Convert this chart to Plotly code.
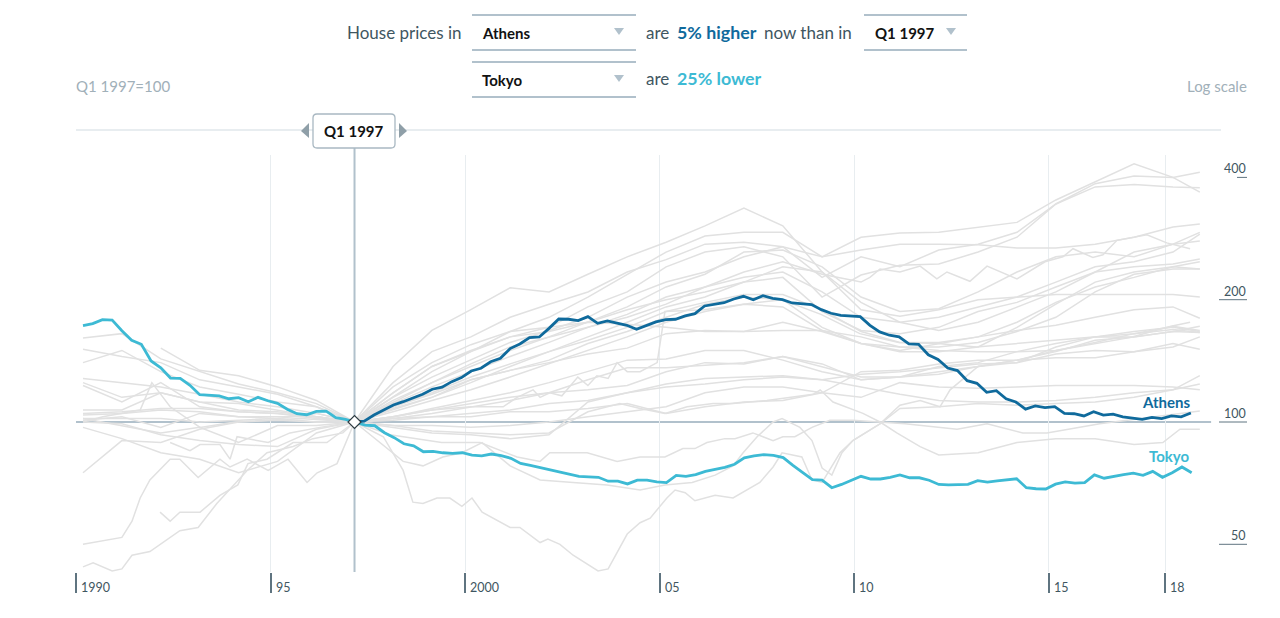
import math
import plotly.graph_objects as go

# ---------- data: house price index, Q1 1997 = 100 ----------
Q0 = 1990.18
athens_start = 1997.16
athens = [100,100.5,104,106.8,110.1,112.2,114.4,117,120.4,121.8,125.7,128.6,
133.5,135.6,140.7,143.5,151.6,155.6,161.3,161.9,170,179.3,179,177.6,181.7,174.9,177.3,175.3,
173,169.1,173,176.3,178.6,179,182.4,184.8,193,194.7,196.6,200.8,203.9,200,204.6,201.5,
200,196.3,195.1,194.5,189,185.2,183,182.4,181.7,173,166.6,163.5,162.1,
155.6,155.3,146.4,142.6,135.8,133.8,126.4,124.5,118.3,119.4,114.1,112,107.6,109.5,108.5,109.1,
105,104.8,103.5,106,104,104.5,103,102.3,101.5,102.7,101.9,103.5,103,105.2]
tokyo = [172.6,174.6,178.6,178.2,167.8,158.9,155.3,141.3,136,128.3,128.1,123.1,116.7,116.1,115.9,114.1,
114.8,112.2,115,112.8,111.2,107.5,104.8,104.2,106.2,106.4,102.5,101.5,100,
98.3,97.9,94.1,91.5,88.4,87.4,84.5,84.7,84,83.7,84,82.9,82.5,83.4,82.6,81.4,79.1,78.2,77.2,76.3,75.3,
74.2,73.5,73.3,73.1,71.5,71.5,70.4,71.9,71.9,71.2,70.9,73.9,73.5,74.2,75.6,76.3,77.3,78.7,81.6,82.5,83.1,
82.8,81.7,78.2,75,72.1,71.9,68.9,70.2,71.7,73.5,72.4,72.4,73.1,
74.1,72.9,72.9,71.9,70.2,70,70.2,70.2,71.7,71.1,71.6,71.9,72.5,68.9,68.5,68.4,70.3,71.2,70.7,70.9,
74.1,72.7,73.6,74.2,74.8,73.9,75.6,73.1,75,77.5,75]

years_pre = [1990.18,1991.18,1992.18,1993.18,1994.18,1995.18,1996.18,1997.16]
years_post = [1997.16,1998.15,1999.15,2000.15,2001.16,2002.16,2003.16,2004.17,2005.17,2006.17,2007.17,
2008.17,2009.18,2010.18,2011.18,2012.18,2013.19,2014.19,2015.19,2016.2,2017.2,2018.2,2018.89]

pre_01=[None,None,152,134,130,122,113,100]
pre_02=[161,165,143,133,124,118,111,100]
pre_03=[151,145,140,127,122,117,109,100]
pre_04=[140,150,133,122,117,112,109,100]
pre_05=[128,125,122,117,112,109,105,100]
pre_06=[125,115,118,112,111,107,103,100]
pre_07=[123,112,125,109,106,105,102,100]
pre_08=[107,107,118,112,107,106,103,100]
pre_09=[105,106,108,108,106,105,103,100]
pre_10=[104,105,107,106,103,103,103,100]
pre_11=[102,102,102,100,101,102,105,100]
pre_12=[101,103,97,105,103,102,100,100]
pre_13=[102,98,94,97,89,98,98,100]
pre_14=[100,99,93,90,88,87,96,100]
pre_15=[97,91,84,81,75,80,94,100]
pre_16=[75,90,89,96,100,101,100,100]
grey_pre=[pre_01,pre_02,pre_03,pre_04,pre_05,pre_06,pre_07,pre_08,pre_09,pre_10,pre_11,pre_12,pre_13,pre_14,pre_15,pre_16]

post_01=[100,137,168,189,214,209,231,255,277,304,336,304,234,189,182,189,200,203,206,206,206,206,203]
post_02=[100,118,137,149,167,181,203,231,262,287,293,293,255,285,292,293,302,310,352,390,432,400,368]
post_03=[100,125,149,162,181,195,209,234,251,274,277,270,227,255,241,265,274,293,344,386,403,400,412]
post_04=[100,115,133,149,162,171,192,209,241,262,270,255,203,230,243,245,262,285,344,379,384,379,377]
post_05=[100,115,129,142,157,168,181,203,221,234,255,270,255,265,274,274,273,268,268,274,285,302,307]
post_06=[100,112,125,137,150,162,176,192,215,231,262,265,241,203,187,190,209,234,255,262,255,274,293]
post_08=[100,118,137,150,162,167,176,189,200,209,221,241,234,197,176,168,176,192,209,234,262,274,279]
post_09=[100,111,122,133,145,157,171,184,203,215,227,234,209,181,176,181,192,203,221,241,248,262,290]
post_10=[100,109,118,129,139,149,162,176,192,203,221,227,187,168,165,171,187,197,215,234,241,245,252]
post_11=[100,107,115,125,137,149,159,171,187,197,206,206,189,167,157,157,162,176,197,215,227,241,248]
post_12=[100,109,117,127,134,142,156,167,181,195,203,200,171,156,149,149,153,171,195,221,234,241,238]
post_13=[100,106,113,120,129,139,150,162,176,187,195,192,168,156,153,153,157,167,181,209,231,238,238]
post_15=[100,122,140,155,167,171,176,174,171,167,167,168,168,162,153,150,149,149,150,156,162,167,172]
post_16=[100,108,115,127,134,140,147,152,165,168,167,176,167,156,150,156,162,168,173,181,189,192,180]
post_17=[100,103,107,111,115,118,120,123,133,140,139,145,139,127,129,137,140,149,156,162,167,171,167]
post_18=[100,103,108,113,118,125,133,142,143,150,150,142,133,127,129,131,137,142,150,157,165,172,168]
post_19=[100,102,105,109,113,118,127,136,136,138,140,145,137,129,129,133,137,142,149,159,162,167,166]
post_20=[100,102,103,105,107,111,113,118,124,128,129,130,127,131,133,136,139,140,147,150,149,153,162]
post_21=[100,101,103,103,106,106,108,111,105,109,112,113,118,133,134,139,142,142,144,144,149,156,151]
post_26=[100,97,94,93,91,93,112,118,122,124,127,129,127,122,117,113,112,112,113,115,118,120,124]
post_27=[100,98,98,97,98,100,103,106,109,118,122,122,118,115,125,122,121,122,123,123,123,122,120]
grey_post=[post_01,post_02,post_03,post_04,post_05,post_06,post_08,post_09,post_10,post_11,post_12,post_13,
           post_15,post_16,post_17,post_18,post_19,post_20,post_21,post_26,post_27]

a_x=[1990.18,1991.18,1991.44,1991.65,1991.9,1992.42,1992.67,1993.14,1993.7,1993.96,1994.4,1994.94,1995.45,1995.94,1996.2,1996.71,1997.16]
a_y=[50,52,57,65,72,81,81,73,81,77.5,81,76,81,71,75,79,100]
b_x=[1990.18,1990.44,1990.93,1991.18,1991.44,1991.9,1992.67,1993.14,1993.62,1994.4,1994.91,1995.58,1996.09,1996.86,1997.16]
b_y=[44,45,43,43.5,47,48,54,55,63,76,84,87,91,94,100]
c_x=[1992.16,1992.42,1992.67,1993.19,1993.7,1994.16,1994.42,1994.91,1995.58,1996.45,1997.16]
c_y=[60,57,60,60,66,70,79,81,89,89,100]
d_x=[1992.42,1992.93,1993.19,1993.7,1993.96,1994.14,1994.94,1995.5,1996.27,1997.16]
d_y=[89,85,88,88,81,92,89,94,97,100]
e_x=[1990.18,1990.69,1991.65,1991.95,1992.42,1993.19,1994.09,1995.76,1997.16]
e_y=[100,103,107,125,109,97,100,102,100]
jump_x=[1997.16,1998.15,1999.15,2000.15,2000.98,2001.34,2001.75,2001.93,2002.18,2002.49,2002.9,2003.16,2003.39,2003.68,2003.91,2004.17,2004.5,2004.94,2005.14,
2006.15,2007.15,2008.15,2009.15,2010.15,2011.15,2012.15,2013.15,2014.15,2015.15,2016.15,2017.15,2018.15,2018.64]
jump_y=[100,103,107,109,109,115,120,115,118,116,129,123,130,128,140,133,133,140,187,189,195,200,184,165,157,156,153,156,159,162,162,172,176]
wig_x=[1997.16,1998.15,1999.15,2000.15,2001.16,2002.16,2003.16,2004.17,2005.17,2006.17,2007.17,2008.17,2009.18,2010.18,2010.41,2010.67,2011.18,2011.7,2012.13,2012.39,2012.98,2013.42,2014.19,2014.91,2015.37,2015.63,2016.14,2016.4,2016.76,2017.53,2018.04,2018.64]
wig_y=[100,113,125,139,153,162,171,181,195,215,234,248,231,221,227,238,234,242,225,234,222,242,225,248,255,267,254,258,280,289,276,267]
low_x=[1997.16,1998.15,1999.15,2000.15,2001.16,2002.16,2003.16,2003.98,2004.5,2005.14,2005.71,2006.38,2006.89,2007.76,2008.43,2008.95,2009.13,2009.46,2010.23,2010.67,2011.1,2011.7,2012.18,2013.19,2014.19,2015.19,2016.2,2017.2,2017.94,2018.38,2018.89]
low_y=[100,98,95,94,93,94,106,111,108,105,109,111,111,113,115,117,120,112,105,100,94,87,83,84,89,91,91,88,89,96,96]
mid_x=[1997.16,1998.07,1999.4,2000.39,2001.34,2001.93,2002.18,2003.14,2003.91,2004.5,2005.14,2005.6,2005.91,2006.22,2006.68,2006.94,2007.4,2007.92,2008.17,2008.48,2008.92,2009.38,2009.97,2010.67,2011.31,2012.65,2013.42,2014.34,2014.96,2016.32,2018.89]
mid_y=[100,93,89,89,82,80,84,84,80,82,82,86,86,89,91,91,94,90,92,92,97,101,101,100,99,96,99,94,94,99,106.5]
dip_x=[1997.16,1998.41,1998.92,1999.43,1999.92,2000.44,2001.16,2001.93,2002.78,2003.65,2004.5,2005.14,2005.84,2006.43,2006.89,2007.15,2007.51,2007.92,2008.15,2008.61,2008.92,2009.18,2009.43,2009.69,2009.97,2010.67,2011.18,2011.7,2012.21,2012.47,2013.19,2014.19,2015.19,2016.2,2017.2,2018.2,2018.89]
dip_y=[100,80,78,82,84,89,78,72,71,70,68,70,71,74,78,84,92,100,102,97,90,77,74,84,90,99,110,113,109,120,137,140,153,162,165,169,166]
deep_x=[1997.16,1997.9,1998.41,1998.66,1998.92,1999.28,1999.61,1999.92,2000.18,2000.44,2001.16,2001.41,2001.93,2002.13,2002.44,2002.78,2003.42,2003.68,2004.17,2004.5,2004.76,2005.19,2005.4,2005.66,2005.91,2006.43,2006.89,2007.58,2007.92,2008.15,2008.66,2008.92,2009.18,2009.64,2009.97,2010.67,2011.18,2012.18,2013.19,2014.19,2015.19,2016.2,2017.2,2018.2,2018.89]
deep_y=[100,92,76,63.5,63,65,65,62,65,60,55,55,50.5,51.5,50,47,43,43.5,53,56.5,58,65,68,67,64,66,65,71,77.5,84,82,72,71,84,90,99,108,109,111,110,111,112,115,120,130]
grey_free=[(a_x,a_y),(b_x,b_y),(c_x,c_y),(d_x,d_y),(e_x,e_y),(jump_x,jump_y),(wig_x,wig_y),(low_x,low_y),(mid_x,mid_y),(dip_x,dip_y),(deep_x,deep_y)]

x_tick_vals=[1990,1995,2000,2005,2010,2015,2018]
x_tick_text=["1990","95","2000","05","10","15","18"]
y_tick_vals=[400,200,100,50]

# ---------- pixel helpers for the furniture ----------
BODY=8  # the page's default body margin
L,R,T,B=76,1248,155,572
PX_PER_YEAR=38.9
PX_PER_DOUBLING=122.3
def xp(px): return (px-L)/(R-L)
def yp(py): return (B-py)/(B-T)
FONT="Lato"
C_RULE="#b1c1cc"; C_GRID="#e8edf0"; C_TEXT="#3f5661"; C_MUTED="#a1b0b9"; C_GREY="#e1e1e1"
C_ATH="#0f6a9c"; C_TOK="#3dbad4"; C_INK="#121212"

fig=go.Figure()
for s in grey_pre:
    fig.add_trace(go.Scatter(x=years_pre,y=s,mode="lines",line=dict(color=C_GREY,width=1.5),hoverinfo="skip"))
for s in grey_post:
    fig.add_trace(go.Scatter(x=years_post,y=s,mode="lines",line=dict(color=C_GREY,width=1.5),hoverinfo="skip"))
for xs,ys in grey_free:
    fig.add_trace(go.Scatter(x=xs,y=ys,mode="lines",line=dict(color=C_GREY,width=1.5),hoverinfo="skip"))
fig.add_trace(go.Scatter(x=[athens_start+i*0.25 for i in range(len(athens))],y=athens,mode="lines",name="Athens",
                         line=dict(color=C_ATH,width=2.8)))
fig.add_trace(go.Scatter(x=[Q0+i*0.25 for i in range(len(tokyo))],y=tokyo,mode="lines",name="Tokyo",
                         line=dict(color=C_TOK,width=2.8)))
fig.add_trace(go.Scatter(x=[athens_start],y=[100],mode="markers",
                         marker=dict(symbol="diamond",size=10,color="white",line=dict(color="#2d3b42",width=1.2))))

shapes=[]
def hline(x0,x1,py,color,w):
    shapes.append(dict(type="line",xref="paper",yref="paper",x0=xp(x0),x1=xp(x1),y0=yp(py),y1=yp(py),
                       line=dict(color=color,width=w),layer="below"))
# slider track, 100 line, cursor
hline(76,1221,130,C_GRID,2)
shapes.append(dict(type="line",xref="x",yref="y",x0=1990,x1=2019.18,y0=100,y1=100,line=dict(color=C_RULE,width=2.2),layer="below"))
shapes.append(dict(type="line",xref="x",yref="paper",x0=athens_start,x1=athens_start,y0=0,y1=yp(148),line=dict(color=C_RULE,width=2),layer="below"))
# y tick rules
for v in y_tick_vals:
    shapes.append(dict(type="line",xref="paper",yref="y",x0=xp(1237 if v==400 else 1219),x1=xp(1247),y0=v,y1=v,
                       line=dict(color="#5f7480",width=1),layer="above"))
# dropdown rules
for x0,x1,y0,y1 in [(472,636,15,50),(472,636,62,97),(864,967,15,50)]:
    hline(x0,x1,y0,C_RULE,2); hline(x0,x1,y1,C_RULE,2)
def tri(pts,color):
    d="M "+" L ".join(f"{xp(a)},{yp(b)}" for a,b in pts)+" Z"
    shapes.append(dict(type="path",xref="paper",yref="paper",path=d,fillcolor=color,line=dict(width=0),layer="above"))
tri([(614,28),(624,28),(619,35)],C_RULE); tri([(614,75),(624,75),(619,82)],C_RULE); tri([(946,28),(956,28),(951,35)],C_RULE)
tri([(309,123),(309,138),(301,131)],"#8f9fa8"); tri([(399,123),(399,138),(407,131)],"#8f9fa8")
# date handle
r=4; x0,x1,y0,y1=313,395,114,148
pts=(f"M {xp(x0+r)},{yp(y0)} L {xp(x1-r)},{yp(y0)} Q {xp(x1)},{yp(y0)} {xp(x1)},{yp(y0+r)} L {xp(x1)},{yp(y1-r)} "
     f"Q {xp(x1)},{yp(y1)} {xp(x1-r)},{yp(y1)} L {xp(x0+r)},{yp(y1)} Q {xp(x0)},{yp(y1)} {xp(x0)},{yp(y1-r)} "
     f"L {xp(x0)},{yp(y0+r)} Q {xp(x0)},{yp(y0)} {xp(x0+r)},{yp(y0)} Z")
shapes.append(dict(type="path",xref="paper",yref="paper",path=pts,fillcolor="white",line=dict(color="#a9b8c2",width=1.3),layer="above"))

def txt(px,py,s,color=C_TEXT,size=16,bold=False,anchor="left"):
    label=f"<b>{s}</b>" if bold else s
    return dict(xref="paper",yref="paper",x=xp(px),y=yp(py),text=label,showarrow=False,xanchor=anchor,yanchor="middle",
                font=dict(family=FONT,size=size,color=color),align=anchor,borderpad=0,xshift=-1 if anchor=="left" else 0)
ann=[txt(347,32,"House prices in",size=17),
     txt(482,33,"Athens",C_INK,15,True),txt(482,79.5,"Tokyo",C_INK,15,True),txt(875,33,"Q1 1997",C_INK,15,True),
     txt(646,32,"are",size=17),txt(677,32,"5% higher",C_ATH,17.8,True),txt(764,32,"now than in",size=17),
     txt(646,78,"are",size=17),txt(677,78,"25% lower",C_TOK,17.8,True),
     txt(354,131,"Q1 1997",C_INK,15,True,"center"),
     txt(76,86,"Q1 1997=100",C_MUTED,15),txt(1248,86,"Log scale",C_MUTED,15,False,"right"),
     txt(1191,402,"Athens",C_ATH,15,True,"right"),txt(1191,456,"Tokyo",C_TOK,15,True,"right")]
for v,t in zip(x_tick_vals,x_tick_text):
    ann.append(dict(xref="x",yref="paper",x=v,y=yp(587),text=t,showarrow=False,xanchor="left",yanchor="middle",xshift=3,
                    font=dict(family=FONT,size=12.5,color=C_TEXT)))
for v in y_tick_vals:
    ann.append(dict(xref="paper",yref="y",x=xp(1248),y=math.log10(v),text=str(v),showarrow=False,xanchor="right",yanchor="bottom",
                    yshift=-1,font=dict(family=FONT,size=12.5,color=C_TEXT)))

top=2+(422-T)/PX_PER_DOUBLING*math.log10(2)
bot=2-(B-422)/PX_PER_DOUBLING*math.log10(2)
W,H=1280-BODY,618-BODY
fig.update_layout(width=W,height=H,margin=dict(l=L-BODY,r=W-(R-BODY),t=T-BODY,b=H-(B-BODY),pad=0),autosize=False,
    paper_bgcolor="white",plot_bgcolor="white",showlegend=False,shapes=shapes,annotations=ann,
    xaxis=dict(range=[1990,1990+(R-L)/PX_PER_YEAR],tickmode="array",tickvals=x_tick_vals,showticklabels=False,
               ticks="outside",ticklen=20,tickcolor="#5f7480",tickwidth=1.5,showgrid=True,gridcolor=C_GRID,gridwidth=1,
               zeroline=False,showline=False),
    yaxis=dict(type="log",range=[bot,top],tickmode="array",tickvals=y_tick_vals,showticklabels=False,ticks="",
               showgrid=False,zeroline=False,showline=False))
fig.write_html("out.html",config={"displayModeBar":False})
